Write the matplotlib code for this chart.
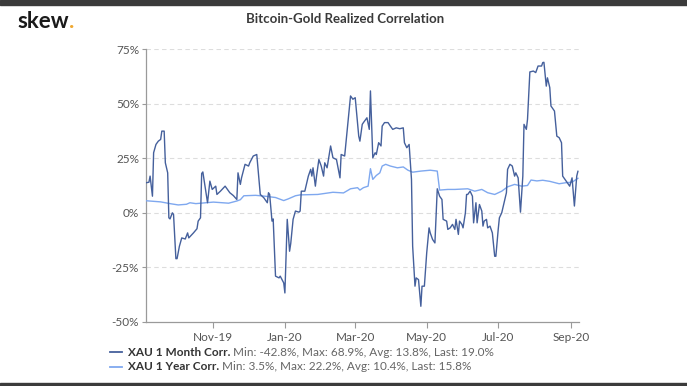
import matplotlib
matplotlib.use("Agg")
import matplotlib.pyplot as plt
import matplotlib.dates as mdates
from matplotlib.lines import Line2D
from matplotlib.patches import Rectangle
import pandas as pd

start_date = "2019-09-05"

# XAU 1 Month Corr. (day offset from start_date, value in %)
month_days = [0, 2, 3, 5, 6, 8, 10, 12, 13, 15, 16, 18, 19, 20, 22, 23, 25, 26, 28, 30,
              33, 35, 36, 40, 43, 44, 46, 47, 48, 52, 54, 56, 59, 60, 63, 67, 69, 71, 74, 77,
              78, 80, 81, 84, 87, 88, 91, 94, 97, 100, 103, 104, 105, 107, 108, 110, 113, 114, 117, 118,
              120, 122, 123, 125, 127, 130, 131, 132, 135, 138, 140, 141, 142, 144, 145, 147, 149, 151, 152, 154,
              157, 159, 162, 165, 166, 169, 172, 174, 176, 178, 181, 182, 184, 185, 187, 188, 190, 191, 193, 195,
              196, 198, 200, 201, 203, 206, 208, 210, 213, 216, 219, 220, 222, 224, 226, 227, 229, 230, 232, 234,
              235, 237, 239, 241, 242, 244, 246, 248, 250, 252, 253, 256, 257, 259, 261, 263, 264, 266, 267, 269,
              270, 272, 273, 274, 276, 278, 279, 281, 282, 284, 286, 287, 288, 290, 291, 293, 295, 297, 298, 300,
              301, 303, 305, 307, 308, 310, 312, 314, 315, 317, 319, 321, 322, 324, 325, 327, 330, 332, 334, 337,
              338, 339, 341, 342, 344, 345, 348, 350, 352, 354, 355, 358, 359, 361, 363, 365, 367, 368]
month_vals = [13.8, 14.0, 16.8, 7.6, 27.5, 31.3, 32.8, 33.6, 37.4, 37.4, 22.9, 18.3, -2.3, -2.8, 0.0, -0.8, -21.0, -21.0, -15.3, -11.5,
              -12.0, -9.2, -11.5, -9.2, -7.3, -3.8, -2.3, 18.0, 18.7, 4.6, 14.5, 10.7, 12.2, 8.4, 9.9, 12.2, 10.7, 9.2, 7.9, 6.1,
              18.3, 13.0, 16.0, 22.2, 21.4, 22.9, 26.0, 26.7, 8.4, 6.9, 4.6, 9.2, 8.4, -3.8, -2.8, -29.0, -29.8, -29.0, -32.1, -36.7,
              -3.0, -17.6, -14.0, -3.0, 0.8, 0.3, 0.8, 9.9, 9.9, 16.8, 19.9, 16.8, 20.6, 12.2, 16.8, 24.4, 21.4, 16.8, 22.9, 20.6,
              30.6, 25.2, 24.4, 16.0, 26.7, 26.0, 42.8, 53.5, 52.0, 52.7, 35.1, 32.8, 40.5, 41.3, 42.8, 43.5, 38.2, 55.8, 25.2, 27.5,
              26.7, 32.1, 30.6, 39.7, 41.3, 41.3, 39.7, 38.2, 38.9, 38.5, 38.9, 32.1, 29.8, 31.3, 15.3, -15.3, -33.6, -29.8, -30.6, -42.8,
              -33.6, -33.6, -18.3, -6.9, -9.2, -12.2, -13.8, 11.0, 7.6, 6.1, -3.0, -3.8, -7.6, -6.9, -5.3, -7.6, -3.0, -9.9, -3.8, -5.3,
              -6.9, 0.0, 8.4, 8.4, 9.9, 7.6, -4.6, 4.6, -4.6, 3.8, 0.8, -6.1, -3.8, -3.0, -6.9, -6.1, -9.2, -19.9, -19.9, -7.6,
              -2.3, 0.0, 4.6, 9.2, 19.9, 22.2, 21.4, 16.8, 18.3, 16.0, 0.3, 16.8, 40.5, 38.2, 42.8, 64.5, 64.9, 64.2, 67.2, 67.2,
              68.8, 68.9, 58.0, 61.8, 57.3, 48.9, 46.6, 35.1, 34.4, 32.1, 16.8, 14.5, 13.8, 12.2, 16.0, 3.1, 16.8, 19.0]

# XAU 1 Year Corr.
year_days = [0, 12, 20, 27, 34, 37, 42, 57, 70, 77, 80, 83, 93, 101, 110, 117, 121, 127, 131, 146,
             159, 168, 174, 180, 182, 185, 189, 191, 193, 196, 199, 201, 204, 208, 214, 219, 223, 227, 234, 242,
             248, 250, 257, 263, 274, 280, 286, 291, 297, 303, 308, 314, 320, 325, 328, 333, 338, 344, 352, 358,
             363, 368]
year_vals = [5.5, 5.0, 4.2, 3.6, 3.9, 4.6, 4.2, 4.9, 4.4, 5.4, 6.0, 7.8, 8.0, 7.6, 7.0, 5.6, 6.4, 7.8, 8.2, 8.4,
             9.4, 9.1, 11.0, 11.5, 10.4, 11.5, 12.2, 20.2, 15.3, 17.1, 18.3, 21.4, 22.2, 21.4, 20.6, 21.0, 19.5, 18.6, 19.1, 19.5,
             19.1, 10.4, 10.7, 10.7, 11.0, 9.9, 10.7, 9.2, 8.4, 9.9, 11.9, 13.0, 12.2, 12.5, 15.0, 14.6, 14.9, 14.4, 13.3, 13.8,
             14.0, 15.8]

y_ticks = [-50, -25, 0, 25, 50, 75]
x_tick_dates = ["2019-11-01", "2020-01-01", "2020-03-01", "2020-05-01", "2020-07-01", "2020-09-01"]
legend_names = ["XAU 1 Month Corr.", "XAU 1 Year Corr."]
legend_stats = ["Min: -42.8%, Max: 68.9%, Avg: 13.8%, Last: 19.0%",
                "Min: 3.5%, Max: 22.2%, Avg: 10.4%, Last: 15.8%"]

c_month = "#45609c"
c_year = "#7fa8ef"
FONT = ["Lato", "DejaVu Sans"]
plt.rcParams["font.family"] = FONT

t0 = pd.Timestamp(start_date)
month_x = [t0 + pd.Timedelta(days=d) for d in month_days]
year_x = [t0 + pd.Timedelta(days=d) for d in year_days]

W, H = 687, 386
fig = plt.figure(figsize=(W / 100, H / 100), dpi=100)
fig.patch.set_facecolor("white")

# dark frame strips
fig.patches.append(Rectangle((0, 1 - 5 / H), 1, 5 / H, transform=fig.transFigure,
                             color="#3b3b3b", zorder=0))
fig.patches.append(Rectangle((0, 0), 1, 3 / H, transform=fig.transFigure,
                             color="#3b3b3b", zorder=0))

ax = fig.add_axes([146 / W, 1 - 322 / H, (578.5 - 146) / W, (322 - 49) / H])
ax.plot(year_x, year_vals, color=c_year, lw=1.0, zorder=3)
ax.plot(month_x, month_vals, color=c_month, lw=1.0, zorder=4)

ax.set_ylim(-50, 75)
ax.set_xlim(t0 - pd.Timedelta(hours=12), t0 + pd.Timedelta(days=368.5))
ax.set_yticks(y_ticks)
ax.set_yticklabels([f"{v}%" for v in y_ticks])
ax.set_xticks([pd.Timestamp(d) for d in x_tick_dates])
ax.xaxis.set_major_formatter(mdates.DateFormatter("%b-%y"))

for v in y_ticks:
    if v > -50:
        ax.axhline(v, color="#dddddd", lw=0.8, ls=(0, (4, 3)), zorder=1)

for s in ["top", "right"]:
    ax.spines[s].set_visible(False)
for s in ["left", "bottom"]:
    ax.spines[s].set_color("#9a9a9a")
    ax.spines[s].set_linewidth(0.9)
ax.tick_params(axis="y", colors="#9a9a9a", length=3, width=0.8, labelcolor="#555555",
               labelsize=8.5, pad=2)
ax.tick_params(axis="x", colors="#9a9a9a", length=4, width=0.8, labelcolor="#555555",
               labelsize=8.5, pad=3)

# title & logo
fig.text(345 / W, 1 - 19 / H, "Bitcoin-Gold Realized Correlation", ha="center", va="center",
         fontsize=9.5, fontweight="bold", color="#3a3a3a")
logo = fig.text(17 / W, 1 - 21 / H, "skew", ha="left", va="center", fontsize=16,
                fontweight="bold", color="#1a1a1a")
fig.canvas.draw()
r = fig.canvas.get_renderer()
bb = logo.get_window_extent(r)
fig.text(bb.x1 / W + 0.5 / W, 1 - 21 / H, ".", ha="left", va="center", fontsize=16,
         fontweight="bold", color="#f0a830")

# legend
leg_y = [1 - 352 / H, 1 - 367 / H]
for i, (name, stat, col) in enumerate(zip(legend_names, legend_stats, [c_month, c_year])):
    fig.add_artist(Line2D([110 / W, 122 / W], [leg_y[i], leg_y[i]], color=col, lw=1.3,
                          transform=fig.transFigure))
    t = fig.text(128 / W, leg_y[i], name, ha="left", va="center", fontsize=8.5,
                 fontweight="bold", color="#333333")
    fig.canvas.draw()
    b = t.get_window_extent(r)
    fig.text(b.x1 / W + 3 / W, leg_y[i], stat, ha="left", va="center", fontsize=8.5,
             color="#666666")

fig.savefig("out.png", dpi=100, facecolor="white")
